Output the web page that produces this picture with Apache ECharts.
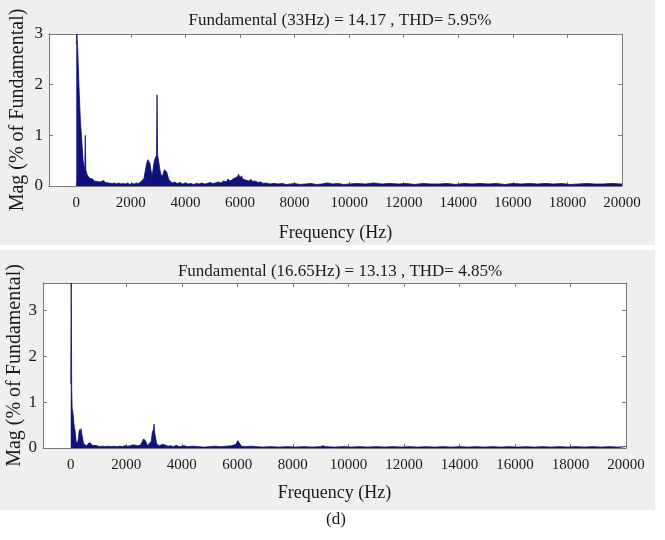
<!DOCTYPE html>
<html>
<head>
<meta charset="utf-8">
<script src="https://cdn.jsdelivr.net/npm/echarts@6/dist/echarts.min.js"></script>
<style>
  html, body { margin: 0; padding: 0; background: #fff; }
  #chart { width: 665px; height: 540px; }
</style>
</head>
<body>
<div id="chart"></div>
<script>
// tick labels shared by both panels
const freqTicks = [0, 2000, 4000, 6000, 8000, 10000, 12000, 14000, 16000, 18000, 20000]
const magTicks = [0, 1, 2, 3]

// top panel: fundamental 33 Hz
const topTitle = 'Fundamental (33Hz) = 14.17 , THD= 5.95%'
const topFreq = [
  0, 20, 33, 50, 70, 90, 110, 130, 150, 175, 200, 225, 250, 280, 310, 330, 350, 380, 420, 460,
  500, 550, 600, 650, 700, 760, 820, 880, 940, 1000, 1060, 1120, 1180, 1250, 1320, 1400, 1480, 1560, 1640, 1720,
  1800, 1880, 1960, 2040, 2120, 2200, 2280, 2360, 2420, 2480, 2530, 2580, 2620, 2660, 2700, 2740, 2780, 2820, 2860, 2900,
  2940, 2960, 2980, 3030, 3070, 3110, 3150, 3190, 3230, 3270, 3310, 3350, 3400, 3460, 3520, 3600, 3700, 3800, 3900, 4000,
  4100, 4200, 4300, 4400, 4500, 4600, 4700, 4800, 4900, 5000, 5100, 5200, 5300, 5400, 5500, 5560, 5620, 5700, 5780, 5850,
  5900, 5950, 6000, 6050, 6100, 6150, 6200, 6260, 6320, 6400, 6460, 6550, 6650, 6750, 6850, 6950, 7100, 7250, 7400, 7550,
  7700, 7850, 8000, 8200, 8400, 8600, 8800, 9000, 9200, 9400, 9600, 9800, 10000, 10300, 10600, 10900, 11200, 11500, 11800, 12100,
  12400, 12700, 13000, 13300, 13600, 13900, 14200, 14500, 14800, 15100, 15400, 15700, 16000, 16300, 16600, 16900, 17200, 17500, 17800, 18100,
  18400, 18700, 19000, 19300, 19600, 20000
]
const topMag = [
  2.8, 3.0, 3.0, 2.75, 2.4, 2.1, 1.8, 1.55, 1.3, 1.1, 0.9, 0.7, 0.5, 0.4, 0.3, 1.0, 0.32, 0.25, 0.2, 0.17,
  0.15, 0.13, 0.14, 0.1, 0.12, 0.09, 0.12, 0.08, 0.1, 0.11, 0.07, 0.09, 0.06, 0.08, 0.05, 0.06, 0.04, 0.06, 0.04, 0.05,
  0.04, 0.06, 0.03, 0.05, 0.04, 0.06, 0.05, 0.08, 0.06, 0.15, 0.3, 0.45, 0.52, 0.55, 0.45, 0.3, 0.2, 0.35, 0.5, 0.56,
  0.6, 1.8, 0.6, 0.45, 0.3, 0.22, 0.18, 0.25, 0.32, 0.35, 0.28, 0.2, 0.12, 0.1, 0.06, 0.08, 0.05, 0.07, 0.04, 0.06,
  0.04, 0.05, 0.03, 0.05, 0.04, 0.06, 0.04, 0.05, 0.07, 0.05, 0.06, 0.08, 0.06, 0.1, 0.08, 0.14, 0.1, 0.12, 0.15, 0.12,
  0.18, 0.23, 0.16, 0.2, 0.14, 0.17, 0.12, 0.15, 0.1, 0.13, 0.09, 0.1, 0.07, 0.08, 0.05, 0.06, 0.04, 0.05, 0.04, 0.05,
  0.03, 0.04, 0.05, 0.03, 0.04, 0.05, 0.03, 0.04, 0.06, 0.04, 0.05, 0.03, 0.04, 0.05, 0.04, 0.06, 0.04, 0.05, 0.04, 0.05,
  0.03, 0.05, 0.04, 0.04, 0.05, 0.03, 0.05, 0.04, 0.05, 0.04, 0.05, 0.03, 0.05, 0.04, 0.05, 0.04, 0.05, 0.04, 0.05, 0.03,
  0.04, 0.05, 0.04, 0.04, 0.05, 0.04
]

// bottom panel: fundamental 16.65 Hz
const botTitle = 'Fundamental (16.65Hz) = 13.13 , THD= 4.85%'
const botFreq = [
  0, 17, 33, 50, 70, 90, 110, 130, 150, 170, 190, 220, 250, 280, 310, 340, 370, 400, 430, 460,
  500, 560, 620, 680, 720, 780, 850, 950, 1050, 1150, 1250, 1350, 1450, 1550, 1650, 1750, 1850, 1950, 2050, 2150,
  2250, 2320, 2400, 2500, 2560, 2620, 2660, 2700, 2760, 2820, 2900, 2940, 2980, 3000, 3020, 3060, 3100, 3200, 3300, 3360,
  3420, 3500, 3600, 3700, 3800, 3900, 4000, 4100, 4200, 4400, 4600, 4800, 5000, 5200, 5400, 5600, 5800, 5950, 6020, 6080,
  6150, 6300, 6500, 6700, 6900, 7200, 7500, 7800, 8100, 8400, 8700, 9000, 9080, 9200, 9500, 9800, 10100, 10400, 10700, 11000,
  11300, 11600, 11900, 12200, 12500, 12800, 13100, 13400, 13700, 14000, 14300, 14600, 14900, 15200, 15500, 15800, 16100, 16400, 16700, 17000,
  17300, 17600, 17900, 18200, 18500, 18800, 19100, 19400, 19700, 20000
]
const botMag = [
  1.4, 3.6, 1.3, 0.85, 0.8, 0.7, 0.55, 0.45, 0.4, 0.3, 0.15, 0.12, 0.1, 0.25, 0.4, 0.35, 0.42, 0.3, 0.2, 0.1,
  0.06, 0.05, 0.08, 0.12, 0.1, 0.06, 0.04, 0.05, 0.03, 0.04, 0.03, 0.04, 0.03, 0.04, 0.03, 0.04, 0.03, 0.05, 0.04, 0.05,
  0.07, 0.04, 0.05, 0.06, 0.12, 0.2, 0.22, 0.15, 0.05, 0.06, 0.15, 0.35, 0.4, 0.52, 0.35, 0.2, 0.08, 0.05, 0.08, 0.1,
  0.06, 0.04, 0.05, 0.03, 0.06, 0.03, 0.04, 0.05, 0.03, 0.04, 0.03, 0.02, 0.03, 0.04, 0.03, 0.04, 0.05, 0.08, 0.16, 0.1,
  0.04, 0.03, 0.04, 0.03, 0.02, 0.03, 0.02, 0.03, 0.02, 0.03, 0.02, 0.03, 0.05, 0.03, 0.02, 0.03, 0.02, 0.03, 0.02, 0.03,
  0.02, 0.03, 0.02, 0.03, 0.02, 0.03, 0.02, 0.03, 0.02, 0.03, 0.02, 0.03, 0.02, 0.03, 0.02, 0.03, 0.02, 0.03, 0.02, 0.03,
  0.02, 0.03, 0.02, 0.03, 0.02, 0.03, 0.02, 0.03, 0.02, 0.03
]

const font = '"Liberation Serif", "Times New Roman", serif'
const ink = '#1a1a1a'
const frame = '#7a7a7a'
const fill = '#10107a'

const chart = echarts.init(document.getElementById('chart'), null, { renderer: 'canvas' })

// bottom x axis with labels + mirrored top axis with ticks only (MATLAB box)
function freqAxes(grid, nameGap) {
  return [
    {
      gridIndex: grid,
      type: 'value',
      min: -1000,
      max: 20000,
      name: 'Frequency (Hz)',
      nameLocation: 'middle',
      nameGap: nameGap,
      nameTextStyle: { fontFamily: font, fontSize: 18, color: ink },
      axisLine: { onZero: false, lineStyle: { color: frame, width: 1 } },
      axisTick: { inside: true, length: 4, customValues: freqTicks, lineStyle: { color: frame } },
      axisLabel: {
        customValues: freqTicks,
        formatter: (v) => String(v),
        fontFamily: font, fontSize: 15, color: ink, margin: 10
      },
      splitLine: { show: false }
    },
    {
      gridIndex: grid,
      type: 'value',
      position: 'top',
      min: -1000,
      max: 20000,
      axisLine: { onZero: false, lineStyle: { color: frame, width: 1 } },
      axisTick: { inside: true, length: 4, customValues: freqTicks, lineStyle: { color: frame } },
      axisLabel: { show: false },
      splitLine: { show: false }
    }
  ]
}

function magAxes(grid, max, nameGap) {
  return [
    {
      gridIndex: grid,
      type: 'value',
      min: 0,
      max: max,
      name: 'Mag (% of Fundamental)',
      nameLocation: 'middle',
      nameGap: nameGap,
      nameMoveOverlap: false,
      nameTextStyle: { fontFamily: font, fontSize: 20, color: ink },
      axisLine: { show: true, onZero: false, lineStyle: { color: frame, width: 1 } },
      axisTick: { show: true, inside: true, length: 4, customValues: magTicks, lineStyle: { color: frame } },
      axisLabel: { customValues: magTicks, fontFamily: font, fontSize: 17, color: ink, margin: 6 },
      splitLine: { show: false }
    },
    {
      gridIndex: grid,
      type: 'value',
      position: 'right',
      min: 0,
      max: max,
      axisLine: { show: true, onZero: false, lineStyle: { color: frame, width: 1 } },
      axisTick: { show: true, inside: true, length: 4, customValues: magTicks, lineStyle: { color: frame } },
      axisLabel: { show: false },
      splitLine: { show: false }
    }
  ]
}

function spectrum(freq, mag, xi, yi) {
  return {
    type: 'line',
    xAxisIndex: xi,
    yAxisIndex: yi,
    data: freq.map((f, i) => [f, mag[i]]),
    showSymbol: false,
    clip: true,
    lineStyle: { color: fill, width: 0.8 },
    areaStyle: { color: fill, opacity: 1 },
    silent: true
  }
}

chart.setOption({
  animation: false,
  backgroundColor: '#fff',
  graphic: [
    { type: 'rect', z: -10, shape: { x: 0, y: 0, width: 655, height: 245 }, style: { fill: '#efefef' } },
    { type: 'rect', z: -10, shape: { x: 0, y: 250, width: 655, height: 260 }, style: { fill: '#efefef' } }
  ],
  title: [
    { text: topTitle, left: 335, top: 7, textAlign: 'center',
      textStyle: { fontFamily: font, fontSize: 17, fontWeight: 'normal', color: ink } },
    { text: botTitle, left: 335, top: 258, textAlign: 'center',
      textStyle: { fontFamily: font, fontSize: 17, fontWeight: 'normal', color: ink } },
    { text: '(d)', left: 331, top: 506, textAlign: 'center',
      textStyle: { fontFamily: font, fontSize: 17, fontWeight: 'normal', color: ink } }
  ],
  grid: [
    { left: 49, top: 34, width: 573, height: 152, outerBoundsMode: 'none', containLabel: false,
      show: true, backgroundColor: '#fff', borderWidth: 0 },
    { left: 43, top: 283, width: 583, height: 165, outerBoundsMode: 'none', containLabel: false,
      show: true, backgroundColor: '#fff', borderWidth: 0 }
  ],
  xAxis: [...freqAxes(0, 38), ...freqAxes(1, 36)],
  yAxis: [...magAxes(0, 3, 21), ...magAxes(1, 3.6, 18)],
  series: [
    spectrum(topFreq, topMag, 0, 0),
    spectrum(botFreq, botMag, 2, 2)
  ]
})
</script>
</body>
</html>
